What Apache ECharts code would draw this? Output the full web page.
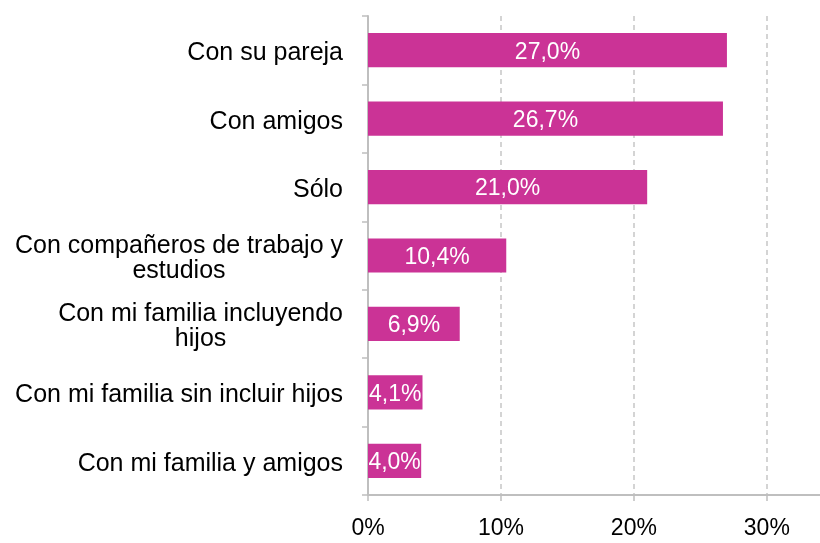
<!DOCTYPE html>
<html lang="es">
<head>
    <meta charset="UTF-8">
    <title>Chart</title>
    <script src="https://cdn.jsdelivr.net/npm/echarts@6/dist/echarts.min.js"></script>
    <style>
        html, body { margin: 0; padding: 0; background: #fff; }
    </style>
</head>
<body>
    <div id="main" style="width:820px; height:543px;"></div>
    <script>
        // datos
        var categorias = [
            'Con su pareja',
            'Con amigos',
            'Sólo',
            'Con compañeros de trabajo y\nestudios',
            'Con mi familia incluyendo\nhijos',
            'Con mi familia sin incluir hijos',
            'Con mi familia y amigos'
        ];
        var valores = [27.0, 26.7, 21.0, 10.4, 6.9, 4.1, 4.0];
        var ticksX = [0, 10, 20, 30];

        var fuente = '"Liberation Sans", Arial, sans-serif';
        var gris = '#BFBFBF';

        var chart = echarts.init(document.getElementById('main'));
        var option = {
            animation: false,
            grid: { left: 368, right: 0, top: 16, bottom: 48 },
            xAxis: {
                type: 'value',
                min: 0,
                max: 34,
                interval: 10,
                axisLine: { show: true, lineStyle: { color: gris, width: 2 } },
                axisTick: { show: true, length: 6, customValues: ticksX, lineStyle: { color: gris, width: 1.5 } },
                axisLabel: {
                    customValues: ticksX,
                    formatter: function (v) { return v + '%'; },
                    color: '#000',
                    fontSize: 23,
                    fontFamily: fuente,
                    margin: 22
                },
                splitLine: { show: true, lineStyle: { color: '#C6C6C6', width: 1.5, type: [5, 4] } }
            },
            yAxis: {
                type: 'category',
                inverse: true,
                data: categorias,
                axisLine: { show: true, lineStyle: { color: gris, width: 2 } },
                axisTick: { show: true, length: 6, lineStyle: { color: gris, width: 1.5 } },
                axisLabel: {
                    margin: 25,
                    padding: [6, 0, 0, 0],
                    formatter: function (v) {
                        return v.split('\n').map(function (l) { return '{c|' + l + '}'; }).join('\n');
                    },
                    rich: {
                        c: { align: 'center', fontSize: 25, fontFamily: fuente, color: '#000', lineHeight: 25 }
                    }
                }
            },
            series: [{
                type: 'bar',
                data: valores,
                barWidth: '50%',
                itemStyle: { color: '#CB3396' },
                label: {
                    show: true,
                    position: 'inside',
                    offset: [0, 2],
                    color: '#fff',
                    fontSize: 23,
                    fontFamily: fuente,
                    formatter: function (p) { return p.value.toFixed(1).replace('.', ',') + '%'; }
                }
            }]
        };
        chart.setOption(option);
    </script>
</body>
</html>
